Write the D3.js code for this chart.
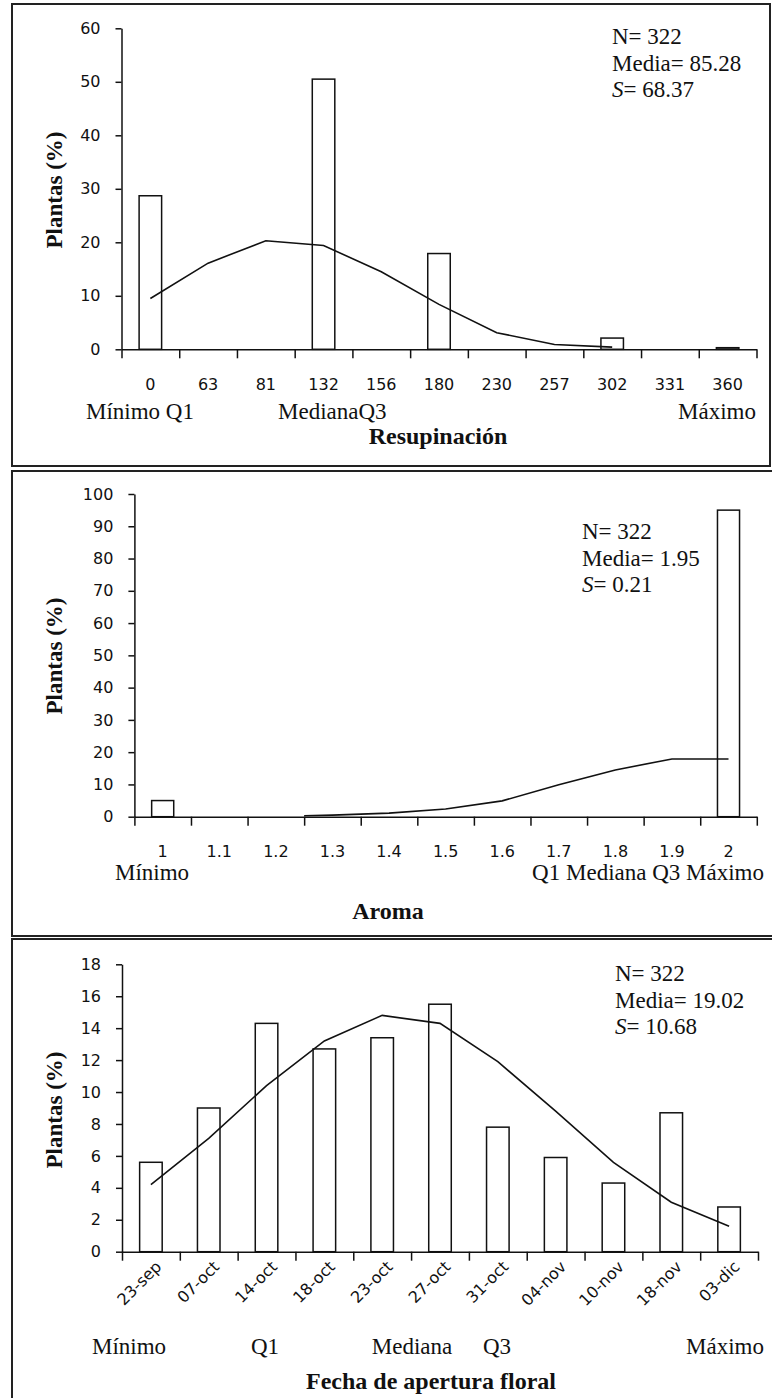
<!DOCTYPE html>
<html>
<head>
<meta charset="utf-8">
<script src="https://cdn.jsdelivr.net/npm/d3@7"></script>
<style>
  body { margin: 0; background: #fff; }
  svg { display: block; }
</style>
</head>
<body>
<div id="chart"></div>
<script>
// ---- Resupinación ----
const resupCats = ["0", "63", "81", "132", "156", "180", "230", "257", "302", "331", "360"];
const resupPct = [28.7, 0, 0, 50.5, 0, 17.9, 0, 0, 2.1, 0, 0.3];
const resupNormal = [9.5, 16.1, 20.3, 19.4, 14.5, 8.4, 3.1, 0.9, 0.4];
const resupYTicks = [0, 10, 20, 30, 40, 50, 60];
const resupStats = ["N= 322", "Media= 85.28", "S= 68.37"];
const resupMarks = ["Mínimo Q1", "MedianaQ3", "Máximo"];

// ---- Aroma ----
const aromaCats = ["1", "1.1", "1.2", "1.3", "1.4", "1.5", "1.6", "1.7", "1.8", "1.9", "2"];
const aromaPct = [5.0, 0, 0, 0, 0, 0, 0, 0, 0, 0, 95.0];
const aromaCurveX = [1.25, 1.3, 1.4, 1.5, 1.6, 1.7, 1.8, 1.9, 2.0];
const aromaCurveY = [0.3, 0.5, 1.1, 2.4, 4.9, 9.9, 14.5, 17.9, 17.9];
const aromaYTicks = [0, 10, 20, 30, 40, 50, 60, 70, 80, 90, 100];
const aromaStats = ["N= 322", "Media= 1.95", "S= 0.21"];
const aromaMarks = ["Mínimo", "Q1 Mediana Q3 Máximo"];

// ---- Fecha de apertura floral ----
const fechaCats = ["23-sep", "07-oct", "14-oct", "18-oct", "23-oct", "27-oct", "31-oct", "04-nov", "10-nov", "18-nov", "03-dic"];
const fechaPct = [5.6, 9.0, 14.3, 12.7, 13.4, 15.5, 7.8, 5.9, 4.3, 8.7, 2.8];
const fechaNormal = [4.2, 7.1, 10.4, 13.2, 14.8, 14.3, 11.9, 8.8, 5.6, 3.1, 1.6];
const fechaYTicks = [0, 2, 4, 6, 8, 10, 12, 14, 16, 18];
const fechaStats = ["N= 322", "Media= 19.02", "S= 10.68"];
const fechaMarks = ["Mínimo", "Q1", "Mediana", "Q3", "Máximo"];

const serif = "'Liberation Serif', 'Times New Roman', serif";
const sans = "'DejaVu Sans', Verdana, sans-serif";
const ink = "#111";

const svg = d3.select("#chart").append("svg")
    .attr("width", 772)
    .attr("height", 1398);

function drawPanel(p) {
    const g = svg.append("g");

    // frame
    g.append("rect")
        .attr("x", p.frame[0]).attr("y", p.frame[1])
        .attr("width", p.frame[2]).attr("height", p.frame[3])
        .attr("fill", "none").attr("stroke", "#222").attr("stroke-width", 2);

    const x = d3.scaleBand().domain(p.cats).range([p.x0, p.x1]).padding(0);
    const y = d3.scaleLinear().domain([0, d3.max(p.yTicks)]).range([p.y0, p.yTop]);
    const bw = x.bandwidth() * 0.39;

    // bars
    g.selectAll("rect.bar")
        .data(p.values.map((v, i) => ({ c: p.cats[i], v: v })).filter(d => d.v > 0))
        .join("rect")
        .attr("class", "bar")
        .attr("x", d => x(d.c) + (x.bandwidth() - bw) / 2)
        .attr("y", d => y(d.v))
        .attr("width", bw)
        .attr("height", d => p.y0 - y(d.v))
        .attr("fill", "#fff")
        .attr("stroke", ink)
        .attr("stroke-width", 1.5);

    // normal curve
    const line = d3.line().x(d => d[0]).y(d => y(d[1]));
    g.append("path")
        .attr("d", line(p.curve(x)))
        .attr("fill", "none")
        .attr("stroke", ink)
        .attr("stroke-width", 1.6);

    // y axis
    const yAxis = d3.axisLeft(y).tickValues(p.yTicks).tickSize(6).tickPadding(15).tickSizeOuter(0);
    const ya = g.append("g").attr("transform", `translate(${p.x0},0)`).call(yAxis);
    ya.selectAll("text").style("font-family", sans).style("font-size", "16px").attr("fill", ink);
    ya.selectAll("line, path").attr("stroke", ink).attr("stroke-width", 1.5);

    // x axis, ticks between categories
    const xb = d3.scaleLinear().domain([0, p.cats.length]).range([p.x0, p.x1]);
    const xTicks = d3.axisBottom(xb).tickValues(d3.range(p.cats.length + 1))
        .tickFormat("").tickSize(9).tickSizeOuter(0);
    const xa = g.append("g").attr("transform", `translate(0,${p.y0})`).call(xTicks);
    xa.selectAll("line, path").attr("stroke", ink).attr("stroke-width", 1.5);

    // category labels
    const xLab = d3.axisBottom(x).tickSize(0).tickPadding(29);
    const xl = g.append("g").attr("transform", `translate(0,${p.y0})`).call(xLab);
    xl.select(".domain").remove();
    xl.selectAll("text").style("font-family", sans).style("font-size", "16px").attr("fill", ink);
    if (p.rotate) {
        xl.selectAll("text")
            .attr("text-anchor", "end")
            .attr("dy", null)
            .attr("y", null)
            .attr("transform", `translate(${x.bandwidth() * 0.2},${p.rotate}) rotate(-45)`);
    }

    // min / quartile / max notes
    p.marks.forEach((m, i) => {
        const pos = p.markPos[i];
        g.append("text")
            .attr("x", pos[0]).attr("y", pos[1])
            .attr("text-anchor", pos[2])
            .style("font-family", serif).style("font-size", "23px").attr("fill", ink)
            .text(m);
    });

    // axis titles
    g.append("text")
        .attr("transform", `translate(54,${p.yTitleY}) rotate(-90)`)
        .attr("text-anchor", "middle").attr("dy", "0.35em")
        .style("font-family", serif).style("font-size", "23px").style("font-weight", "bold")
        .attr("fill", ink)
        .text("Plantas (%)");
    g.append("text")
        .attr("x", p.xTitle[0]).attr("y", p.xTitle[1])
        .attr("text-anchor", "middle")
        .style("font-family", serif).style("font-size", "24px").style("font-weight", "bold")
        .attr("fill", ink)
        .text(p.xTitleText);

    // stats
    p.stats.forEach((s, i) => {
        const t = g.append("text")
            .attr("x", p.statsPos[0]).attr("y", p.statsPos[1] + i * 26.5)
            .style("font-family", serif).style("font-size", "23px").attr("fill", ink);
        if (s.startsWith("S=")) {
            t.append("tspan").style("font-style", "italic").text("S");
            t.append("tspan").text(s.slice(1));
        } else {
            t.text(s);
        }
    });
}

drawPanel({
    frame: [12, 4, 758, 462],
    x0: 121.5, x1: 756.5, yTop: 28.3, y0: 349.3,
    cats: resupCats, values: resupPct, yTicks: resupYTicks,
    curve: x => resupNormal.map((v, i) => [x(resupCats[i]) + x.bandwidth() / 2, v]),
    marks: resupMarks,
    markPos: [[86, 419, "start"], [278, 419, "start"], [756, 419, "end"]],
    xTitleText: "Resupinación", xTitle: [438, 444],
    yTitleY: 190,
    stats: resupStats, statsPos: [612, 44]
});

drawPanel({
    frame: [12, 471, 765, 465],
    x0: 134.4, x1: 756.8, yTop: 494, y0: 816.7,
    cats: aromaCats, values: aromaPct, yTicks: aromaYTicks,
    curve: x => {
        const c = d3.scaleLinear().domain([1, 2])
            .range([x("1") + x.bandwidth() / 2, x("2") + x.bandwidth() / 2]);
        return aromaCurveX.map((a, i) => [c(a), aromaCurveY[i]]);
    },
    marks: aromaMarks,
    markPos: [[152, 880, "middle"], [764, 880, "end"]],
    xTitleText: "Aroma", xTitle: [388, 919],
    yTitleY: 656,
    stats: aromaStats, statsPos: [582, 539]
});

drawPanel({
    frame: [12, 939, 765, 470],
    x0: 122, x1: 758, yTop: 964.3, y0: 1251.7,
    cats: fechaCats, values: fechaPct, yTicks: fechaYTicks,
    curve: x => fechaNormal.map((v, i) => [x(fechaCats[i]) + x.bandwidth() / 2, v]),
    rotate: 16,
    marks: fechaMarks,
    markPos: [[129, 1354, "middle"], [265, 1354, "middle"], [412, 1354, "middle"], [497, 1354, "middle"], [764, 1354, "end"]],
    xTitleText: "Fecha de apertura floral", xTitle: [431, 1389],
    yTitleY: 1110,
    stats: fechaStats, statsPos: [615, 981]
});
</script>
</body>
</html>
